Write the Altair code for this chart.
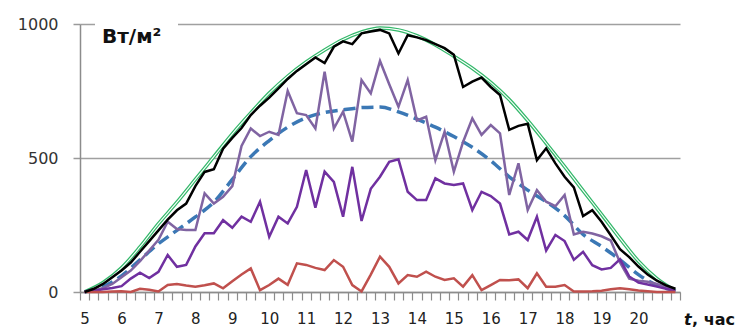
import altair as alt
import pandas as pd

# time grid (15-minute readings, 5:00 .. 21:00) and half-hour grid for the smooth curves
hours_q = [5 + 0.25 * i for i in range(65)]
hours_h = [5 + 0.5 * i for i in range(33)]

clear_sky = [0, 35, 90, 168, 255, 335, 420, 505, 590, 668, 742, 805, 858, 903, 942, 970,
             985, 978, 956, 922, 880, 835, 782, 718, 640, 555, 468, 378, 290, 200, 115, 50, 5]

mean_curve = [0, 20, 60, 120, 180, 230, 280, 335, 420, 505, 565, 615, 650, 670, 680, 688,
              690, 672, 645, 615, 580, 540, 490, 430, 380, 337, 285, 215, 170, 120, 65, 25, 5]

black_total = [0, 12, 30, 55, 80, 110, 150, 190, 230, 270, 305, 330, 395, 448, 458, 535,
               575, 612, 660, 695, 725, 760, 795, 825, 850, 875, 854, 915, 935, 925, 965, 972,
               978, 965, 890, 958, 950, 940, 925, 910, 885, 765, 785, 800, 765, 735, 605, 620,
               628, 492, 536, 480, 430, 390, 283, 305, 262, 212, 160, 130, 95, 65, 42, 25, 12]

lavender_vals = [0, 5, 15, 30, 55, 80, 115, 155, 195, 262, 235, 231, 231, 368, 330, 355,
                 395, 545, 610, 582, 598, 586, 750, 667, 660, 610, 822, 610, 673, 561, 791, 741,
                 862, 775, 691, 791, 640, 654, 492, 598, 449, 560, 648, 586, 623, 592, 362, 480,
                 306, 380, 337, 320, 362, 215, 225, 218, 208, 192, 110, 50, 42, 38, 30, 18, 5]

violet_vals = [0, 5, 10, 15, 22, 50, 72, 52, 75, 138, 94, 101, 170, 219, 219, 268,
               240, 281, 262, 337, 206, 281, 256, 318, 455, 315, 449, 411, 281, 467, 265, 385,
               430, 486, 495, 374, 343, 343, 424, 405, 399, 405, 306, 374, 358, 330, 215, 225,
               194, 281, 155, 213, 190, 120, 150, 100, 84, 90, 122, 58, 35, 28, 20, 12, 5]

red_vals = [0, 0, 0, 2, 3, 0, 12, 8, 2, 26, 30, 24, 20, 25, 32, 14,
            40, 65, 88, 7, 26, 50, 27, 107, 101, 90, 82, 119, 94, 26, 2, 65,
            132, 94, 32, 63, 57, 76, 57, 45, 51, 20, 63, 7, 26, 45, 44, 47,
            14, 70, 20, 20, 26, 2, 2, 3, 5, 10, 14, 10, 6, 3, 0, 0, 0]

tick_marks = [4.875 + 0.25 * j for j in range(66)]
y_ticks = [0, 500, 1000]

df_q = pd.DataFrame({"t": hours_q, "black": black_total, "lav": lavender_vals,
                     "vio": violet_vals, "red": red_vals})
df_h = pd.DataFrame({"t": hours_h, "clear": clear_sky, "mean": mean_curve})

xaxis = alt.Axis(values=tick_marks, tickSize=8, tickWidth=1.2, tickColor="#8c8c8c",
                 domainColor="#8c8c8c", domainWidth=1.5, grid=False,
                 labelExpr="(abs(datum.value + 0.125 - round(datum.value + 0.125)) < 0.01 && datum.value < 20.5) ? '' + round(datum.value + 0.125) : ''",
                 labelOffset=4.6, labelOverlap=False, labelFlush=False, labelBound=False,
                 labelPadding=11, labelFont="DejaVu Sans", labelFontSize=15,
                 labelColor="#222222", title=None)
yaxis = alt.Axis(values=y_ticks, format="d", tickSize=7, tickWidth=1.5, tickColor="#9a9a9a",
                 domainColor="#8c8c8c", domainWidth=1.5, grid=True, gridColor="#a0a0a0",
                 gridWidth=1.5, labelPadding=15, labelFont="DejaVu Sans", labelFontSize=16,
                 labelColor="#333333", title=None)

X = alt.X("t:Q", scale=alt.Scale(domain=[4.875, 21.125], nice=False, zero=False), axis=xaxis)
def Y(field):
    return alt.Y(f"{field}:Q", scale=alt.Scale(domain=[0, 1000], nice=False), axis=yaxis)

base_q = alt.Chart(df_q)
base_h = alt.Chart(df_h)

green_outer = base_h.mark_line(color="#33b86a", strokeWidth=3.6, interpolate="monotone").encode(x=X, y=Y("clear"))
green_inner = base_h.mark_line(color="#ffffff", strokeWidth=1.1, interpolate="monotone").encode(x=X, y=Y("clear"))
blue = base_h.mark_line(color="#3b78b5", strokeWidth=3.5, strokeDash=[12, 6],
                        interpolate="monotone").encode(x=X, y=Y("mean"))
lav = base_q.mark_line(color="#8064a2", strokeWidth=2.5).encode(x=X, y=Y("lav"))
vio = base_q.mark_line(color="#7030a0", strokeWidth=2.5).encode(x=X, y=Y("vio"))
red = base_q.mark_line(color="#c0504d", strokeWidth=2.5).encode(x=X, y=Y("red"))
black = base_q.mark_line(color="#000000", strokeWidth=2.5).encode(x=X, y=Y("black"))

label_bg = alt.Chart(pd.DataFrame({"a": [0]})).mark_rect(color="white").encode(
    x=alt.value(15), x2=alt.value(98), y=alt.value(-5), y2=alt.value(6))
unit_lbl = alt.Chart(pd.DataFrame({"s": ["Вт/м²"]})).mark_text(
    align="left", baseline="alphabetic", font="DejaVu Sans", fontWeight="bold",
    fontSize=20, color="#111111").encode(x=alt.value(22), y=alt.value(19), text="s:N")
t_lbl = alt.Chart(pd.DataFrame({"s": ["t"]})).mark_text(
    align="left", baseline="alphabetic", font="DejaVu Sans", fontWeight="bold",
    fontStyle="italic", fontSize=16, color="#111111").encode(x=alt.value(604), y=alt.value(301), text="s:N")
h_lbl = alt.Chart(pd.DataFrame({"s": [", час"]})).mark_text(
    align="left", baseline="alphabetic", font="DejaVu Sans", fontWeight="bold",
    fontSize=16, color="#111111").encode(x=alt.value(612), y=alt.value(301), text="s:N")

chart = alt.layer(green_outer, green_inner, blue, lav, vio, red, black,
                  label_bg, unit_lbl, t_lbl, h_lbl).properties(
    width=600, height=268,
    autosize=alt.AutoSizeParams(type="none"),
    padding={"left": 72, "top": 16, "right": 57, "bottom": 36},
    background="white",
).configure_view(stroke=None)

chart.save("out.html", embed_options={"renderer": "svg", "actions": False})
